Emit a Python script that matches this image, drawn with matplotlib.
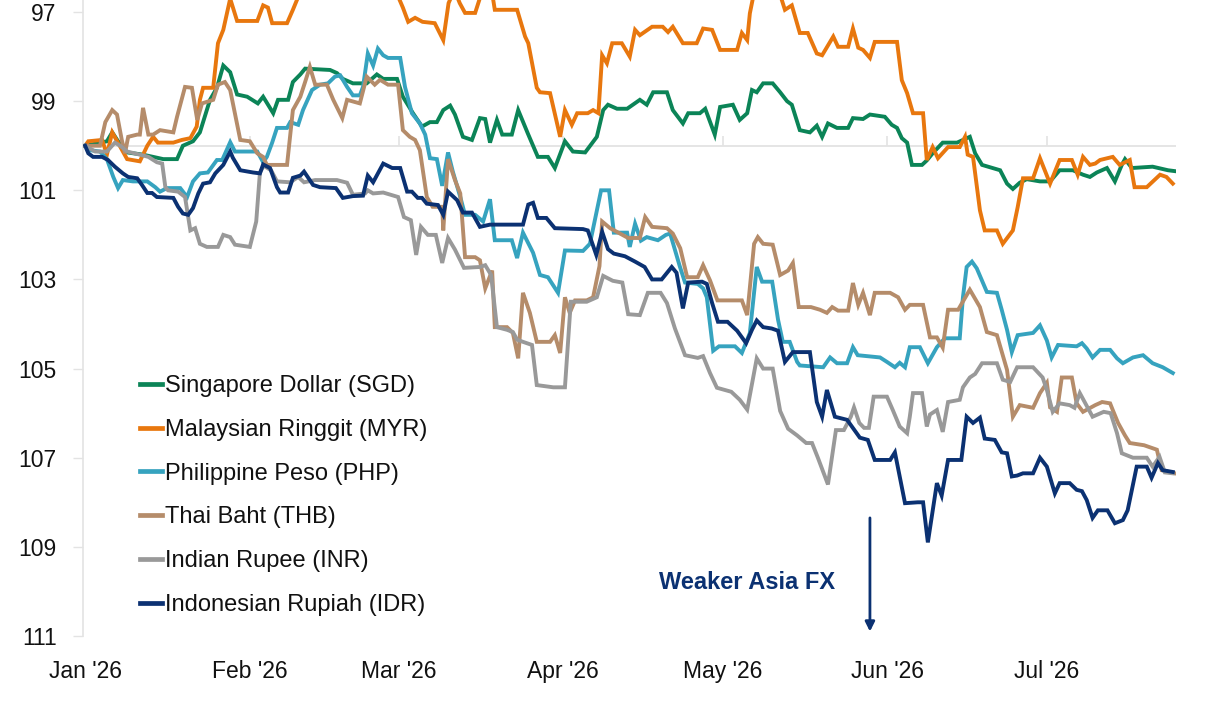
import numpy as np
import matplotlib
matplotlib.use("Agg")
import matplotlib.pyplot as plt
from matplotlib.lines import Line2D

plt.rcParams['font.family'] = ['Liberation Sans', 'DejaVu Sans']

# ---------------- data (days since 1 Jan 2026, index level, inverted scale) ----------------
tick_days = [0, 31, 59, 90, 120, 151, 181]
tick_labels = ["Jan '26", "Feb '26", "Mar '26", "Apr '26", "May '26", "Jun '26", "Jul '26"]
y_ticks = [97, 99, 101, 103, 105, 107, 109, 111]

sgd_days = [0, 4.1, 5.1, 6.2, 7.9, 10.9, 14.7, 17.3, 18.4, 20.3, 21.6, 23.5, 24.8, 26, 27.3, 28.6, 30.5,
            32.5, 33.5, 35.4, 36.3, 38.2, 39.1, 40.5, 41.4, 46.1, 47.4, 48.5, 50.4, 53, 54.9, 56.1, 58.7,
            59.8, 61.7, 63.4, 64.9, 66.2, 67.4, 68.7, 69.6, 71.1, 72.8, 74.3, 75.3, 76.2, 77.5, 78.5, 80.3,
            81.5, 83.3, 85.2, 87.1, 88.4, 90.3, 91.8, 94.1, 96.3, 97.5, 98.4, 100.1, 102, 104.4, 105.7,
            106.9, 109.5, 110.6, 112.5, 113.5, 115.7, 116.7, 118.5, 119.5, 121.9, 123.2, 124.6, 125.5,
            126.4, 127.6, 129.4, 130.8, 132.1, 133, 134.5, 136.4, 137.7, 138.7, 139.8, 141.5, 143.6,
            144.5, 146.4, 147.7, 150.5, 151.8, 152.8, 153.7, 154.7, 155.6, 157.5, 158.4, 159.5, 161.4,
            164.1, 165.2, 166.5, 167.5, 168.8, 170.8, 172.2, 173.5, 174.6, 175.9, 177.2, 179.7, 181.6,
            183.4, 185.9, 187.8, 189.1, 190.4, 192.3, 193.8, 195.1, 195.7, 197, 200.9, 203.8, 205.1]
sgd_vals = [100.0, 99.9, 99.7, 99.9, 100.15, 100.2, 100.3, 100.3, 100.0, 99.9, 99.7, 98.97, 98.7, 98.2,
            98.35, 98.85, 98.9, 99.05, 98.9, 99.27, 98.97, 98.97, 98.57, 98.4, 98.27, 98.3, 98.37, 98.5,
            98.6, 98.6, 98.4, 98.5, 98.5, 98.9, 99.27, 99.57, 99.47, 99.47, 99.2, 99.1, 99.3, 99.8, 99.87,
            99.38, 99.4, 99.93, 99.42, 99.75, 99.75, 99.2, 99.72, 100.25, 100.25, 100.5, 99.9, 100.13,
            100.15, 99.8, 99.2, 99.08, 99.17, 99.17, 98.97, 99.08, 98.8, 98.8, 99.2, 99.5, 99.27, 99.27,
            99.17, 99.75, 99.13, 99.08, 99.42, 99.27, 98.75, 98.8, 98.6, 98.6, 98.8, 99.0, 99.08, 99.65,
            99.7, 99.55, 99.8, 99.5, 99.6, 99.6, 99.38, 99.4, 99.3, 99.35, 99.53, 99.6, 99.83, 99.93,
            100.43, 100.43, 100.33, 100.17, 99.93, 99.93, 99.87, 99.8, 100.17, 100.43, 100.5, 100.55,
            100.85, 100.97, 100.83, 100.75, 100.8, 100.8, 100.55, 100.55, 100.65, 100.7, 100.6, 100.5,
            100.8, 100.43, 100.3, 100.5, 100.47, 100.55, 100.57]

myr_days = [0, 0.6, 3.2, 4.1, 5.1, 7.9, 10.3, 11.7, 12.8, 13.7, 16.6, 18.2, 19.8, 21, 21.6, 22.2, 24.1,
            25, 26, 27.3, 28.6, 32.4, 33.5, 34.4, 35.2, 38, 39.1, 41, 58, 59.8, 60.8, 62.1, 63.5, 65.8,
            67.4, 68.4, 69.5, 70.5, 71.5, 73.4, 74.8, 76.5, 77.1, 81.3, 82.8, 83.4, 85.0, 85.6, 87.5,
            89.4, 90.3, 91.6, 92.6, 94.6, 95.6, 96.6, 97.3, 98.2, 99.2, 101, 102.5, 103.5, 104.4, 106.7,
            108.7, 109.7, 110.6, 112.5, 115.1, 116.3, 118, 119.5, 122.7, 123.6, 124.6, 125.1, 126,
            130.5, 131.7, 133, 134.5, 136, 137.7, 138.7, 140.8, 141.7, 143.6, 144.5, 145.5, 146.4,
            147.7, 148.6, 152.8, 153.7, 154.7, 155.8, 157.7, 158.4, 159.5, 160.5, 162.4, 164.6, 165.6,
            166.1, 167.1, 168.4, 169.3, 171.6, 172.7, 174.6, 175.5, 176.5, 178.4, 179.7, 181.6, 183.4,
            185.7, 186.8, 187.8, 189.1, 190.1, 191, 193.4, 194.7, 196.6, 197.5, 199.8, 202.3, 203.5,
            204.7]
myr_vals = [100.0, 99.9, 99.87, 100.2, 99.7, 100.3, 100.35, 100.0, 99.8, 99.93, 99.93, 99.87, 99.83,
            99.57, 98.97, 98.7, 98.7, 97.7, 97.4, 96.7, 97.2, 97.2, 96.85, 96.9, 97.25, 97.25, 96.95,
            96.4, 96.4, 96.9, 97.22, 97.13, 97.22, 97.25, 97.63, 96.8, 96.5, 96.8, 97.02, 97.02, 96.5,
            96.5, 96.95, 96.95, 97.55, 97.7, 98.7, 98.8, 98.82, 99.8, 99.2, 99.53, 99.27, 99.27, 99.2,
            99.27, 97.97, 98.15, 97.7, 97.7, 98.0, 97.4, 97.52, 97.33, 97.33, 97.45, 97.33, 97.7, 97.7,
            97.37, 97.4, 97.85, 97.85, 97.47, 97.63, 97.03, 96.5, 96.5, 96.95, 96.85, 97.47, 97.47,
            97.93, 97.97, 97.55, 97.78, 97.78, 97.37, 97.8, 97.85, 98.03, 97.67, 97.67, 98.53, 98.82,
            99.27, 99.27, 100.32, 100.03, 100.28, 100.03, 100.03, 99.8, 100.2, 100.25, 101.45, 101.9,
            101.9, 102.2, 101.9, 101.38, 100.73, 100.73, 100.28, 100.85, 100.32, 100.32, 100.65,
            100.25, 100.43, 100.4, 100.32, 100.25, 100.43, 100.32, 100.93, 100.93, 100.65, 100.7,
            100.85]

php_days = [0, 0.9, 2.8, 4.1, 5.3, 6.2, 7.1, 9, 11.7, 13.2, 14.1, 15.4, 17.9, 19.2, 20.3, 21.6, 23.1,
            24.8, 25.8, 27.3, 28.2, 32.4, 33.5, 34.2, 35.2, 36.1, 38, 38.6, 40.1, 41, 42.7, 44.2, 45.7,
            47, 48, 49.3, 50.4, 51.7, 52.3, 53.2, 54.2, 55.1, 56.1, 57, 59.3, 60.2, 61.5, 63, 64, 64.9,
            66.2, 67.2, 68.3, 69.2, 70.6, 71.5, 73.4, 74.9, 76.2, 77.1, 80.3, 81.3, 82.4, 84.3, 85.6,
            87.1, 89, 90.3, 93.7, 95, 97.1, 98.6, 99.5, 102, 102.5, 103.5, 104.6, 105.7, 107.8, 109.3,
            110.1, 111.9, 112.9, 115.3, 116.3, 117, 118.2, 119.3, 122.3, 123.6, 125.1, 126.4, 127.4,
            129.3, 130.4, 131.3, 132.6, 134, 134.5, 138.9, 140.2, 141.5, 143.4, 144.5, 145.4, 149.6,
            150.9, 152.4, 153.3, 154.3, 155.2, 157.1, 158.6, 160.3, 161.8, 164.6, 165.2, 165.9, 166.9,
            167.8, 169.7, 171.6, 172.5, 173.5, 174.4, 175.5, 178.4, 179.7, 181, 181.9, 183.1, 186.6,
            187.6, 188.5, 189.6, 191, 192.9, 194.2, 195.3, 197.2, 199.1, 200.9, 202.8, 204.7]
php_vals = [100.0, 100.1, 100.13, 100.3, 100.7, 100.95, 100.77, 100.8, 100.8, 100.93, 101.03, 100.95,
            100.95, 101.15, 100.8, 100.62, 100.6, 100.32, 100.32, 99.92, 100.13, 100.13, 100.37, 100.25,
            99.93, 99.6, 99.6, 99.47, 99.53, 99.2, 98.75, 98.63, 98.6, 98.45, 98.42, 98.68, 98.87,
            98.87, 98.68, 97.93, 98.2, 97.82, 97.97, 98.03, 98.03, 98.68, 99.27, 99.5, 99.75, 100.28,
            100.3, 100.9, 100.15, 100.58, 101.15, 101.55, 101.55, 101.7, 101.2, 102.12, 102.12, 102.52,
            101.95, 102.4, 102.9, 102.95, 103.3, 102.35, 102.36, 102.2, 101.0, 101.0, 101.95, 101.95,
            102.27, 101.75, 102.13, 102.05, 102.12, 102.0, 101.97, 102.7, 103.07, 103.1, 103.2, 103.4,
            104.6, 104.5, 104.5, 104.65, 104.2, 102.72, 103.05, 103.05, 103.9, 104.4, 104.4, 104.85,
            104.93, 104.97, 104.75, 104.88, 104.88, 104.52, 104.7, 104.75, 104.85, 104.97, 104.87,
            104.97, 104.52, 104.52, 104.88, 104.52, 104.32, 104.32, 103.4, 102.72, 102.6, 102.75,
            103.28, 103.3, 103.68, 104.13, 104.63, 104.25, 104.2, 104.03, 104.37, 104.75, 104.47,
            104.5, 104.43, 104.55, 104.75, 104.58, 104.58, 104.77, 104.88, 104.75, 104.7, 104.88,
            104.97, 105.1]

thb_days = [0, 2.8, 3.8, 5.1, 6, 6.9, 7.5, 8.1, 9.8, 10.3, 10.9, 11.9, 12.8, 14.1, 16.6, 17.3, 18.8,
            20.1, 21.1, 22, 24.1, 25, 26.3, 27.3, 29.2, 31.0, 32.4, 33.5, 34.2, 38, 39.1, 40.5, 41.4,
            42.3, 43.3, 45.5, 46.7, 48.4, 49.3, 51.7, 53, 54.5, 55.5, 57, 58.9, 59.8, 61.1, 62.1, 63,
            64.3, 65.4, 67.2, 67.4, 68.3, 69.6, 70.6, 71.5, 73.4, 74.3, 75.3, 76.6, 77.1, 79.4, 80.5,
            81.5, 82.4, 83.7, 85, 87.5, 88.4, 89.4, 90.3, 91.2, 92.2, 94.4, 95.6, 96.8, 97.3, 98.8,
            102.2, 104.4, 105.4, 106.7, 109.5, 110.6, 112, 113.3, 115.3, 116.3, 117.6, 119, 123.6,
            124.6, 125.9, 126.6, 127.6, 129.4, 130.8, 132.3, 133.2, 134.3, 136.6, 138.3, 139.6, 140.6,
            141.7, 143.6, 144.5, 145.5, 146.4, 147.7, 148.6, 151.5, 153, 154.3, 155.2, 157.7, 159,
            160.3, 161.4, 162.4, 164.3, 166.5, 168.4, 169.7, 171.6, 173.5, 174.6, 175.9, 178.4, 179.7,
            181, 181.6, 182.9, 183.8, 185.7, 186.6, 187.8, 190.1, 191.4, 192.9, 193.4, 194.4, 195.7,
            196.6, 199.3, 201.7, 202.6, 205.1]
thb_vals = [100.0, 100.0, 99.47, 99.2, 99.3, 99.87, 100.17, 99.8, 99.75, 99.75, 99.15, 99.75, 99.75,
            99.65, 99.7, 99.35, 98.68, 98.7, 99.42, 99.05, 98.97, 98.63, 98.57, 98.75, 99.87, 99.9,
            100.17, 100.25, 100.43, 100.43, 99.2, 98.9, 98.57, 98.23, 98.63, 98.63, 98.97, 99.38,
            98.97, 99.05, 98.45, 98.63, 98.52, 98.63, 98.63, 99.65, 99.8, 99.87, 100.1, 101.15,
            101.37, 101.37, 101.9, 100.3, 100.77, 101.07, 102.5, 102.5, 102.57, 103.2, 102.8, 104.07,
            104.07, 104.2, 104.77, 103.3, 103.75, 104.4, 104.4, 104.25, 104.65, 103.4, 103.75, 103.47,
            103.47, 103.4, 102.7, 101.7, 101.85, 102.07, 102.07, 101.6, 101.82, 101.85, 101.97,
            102.3, 102.95, 102.95, 102.68, 103.02, 103.47, 103.47, 103.8, 102.2, 102.05, 102.2,
            102.22, 102.9, 102.8, 102.63, 103.62, 103.62, 103.68, 103.75, 103.62, 103.7, 103.7,
            103.08, 103.57, 103.3, 103.8, 103.3, 103.3, 103.4, 103.68, 103.57, 103.57, 104.3, 104.3,
            104.53, 103.68, 103.68, 103.23, 103.62, 104.18, 104.25, 105.03, 106.08, 105.82, 105.88,
            105.55, 105.32, 105.87, 105.97, 105.2, 105.2, 105.78, 105.97, 105.82, 105.75, 105.78,
            105.93, 106.22, 106.5, 106.67, 106.72, 106.82, 107.28, 107.35]

inr_days = [0, 1.9, 4.1, 5.6, 6.6, 7.9, 10.3, 11.9, 13.5, 14.5, 15.1, 15.6, 17.5, 18.8, 19.8, 20.7,
            21.6, 22.9, 25, 26, 27.3, 28.2, 31, 32.2, 32.9, 33.6, 35, 36.1, 38.6, 40.1, 41.2, 43.3,
            47.4, 49.3, 50.4, 52.7, 53.2, 54.2, 56.1, 58.9, 60, 61.3, 62.3, 63.2, 64.5, 66, 67.2, 68.3,
            69.6, 71.3, 74.3, 75.3, 76.4, 77.5, 79.4, 80.5, 81.3, 82.4, 84.1, 85, 88.1, 90.3, 91.4,
            94.4, 96.3, 97.5, 99.3, 101.1, 102.2, 104.4, 105.9, 108.3, 109.5, 111, 112.9, 115.3, 116.3,
            117.6, 118.9, 121.6, 123.2, 124.6, 126.4, 127.6, 129.4, 130.8, 132.3, 134, 135.7, 136.8,
            137.9, 139.8, 141.3, 142.8, 144.1, 144.7, 145.7, 146.6, 147.5, 148.4, 150.9, 152, 153.3,
            154.7, 155.2, 155.8, 157.5, 158.4, 159, 160.3, 161.4, 162.4, 164.6, 165.2, 166.5, 167.5,
            168.8, 171.6, 172.7, 174.1, 175.4, 178.4, 180.2, 181, 182.1, 183.4, 185.3, 186.2, 187.2,
            189.6, 191.7, 193, 194.2, 195.1, 197.2, 199.8, 200.9, 202.2, 203.2, 204.7]
inr_vals = [100.0, 100.13, 100.13, 99.93, 100.0, 100.13, 100.2, 100.25, 100.37, 100.4, 100.93, 101.0,
            101.03, 101.15, 101.9, 101.85, 102.2, 102.27, 102.27, 102.0, 102.05, 102.22, 102.27,
            101.7, 100.6, 100.45, 100.55, 100.8, 100.82, 100.7, 100.82, 100.77, 100.77, 100.83,
            101.1, 101.07, 101.0, 101.07, 101.05, 101.15, 101.6, 101.67, 102.45, 101.82, 102.0, 102.0,
            102.63, 102.07, 102.33, 102.74, 102.72, 102.68, 102.9, 104.07, 104.13, 104.18, 104.35,
            104.4, 104.47, 105.37, 105.42, 105.42, 103.5, 103.5, 103.4, 102.92, 103.03, 103.07,
            103.78, 103.8, 103.3, 103.3, 103.53, 104.1, 104.7, 104.76, 104.72, 105.1, 105.43, 105.52,
            105.7, 105.92, 104.77, 105.0, 105.0, 105.95, 106.35, 106.5, 106.67, 106.67, 107.0, 107.6,
            106.38, 106.38, 106.08, 105.87, 106.22, 106.33, 106.33, 105.63, 105.63, 105.93, 106.3,
            106.45, 106.08, 105.55, 105.55, 106.3, 106.03, 105.93, 106.42, 105.75, 105.7, 105.42,
            105.2, 105.12, 104.88, 104.88, 105.25, 105.3, 104.97, 104.97, 105.2, 105.48, 105.97,
            105.78, 105.82, 105.88, 105.55, 106.08, 105.97, 106.0, 106.45, 106.9, 107.0, 107.0,
            107.2, 106.98, 107.33, 107.35]

idr_days = [0, 0.6, 1.5, 3.2, 4.3, 5.6, 7.1, 8.1, 9.8, 10.7, 11.7, 12.6, 13.5, 16.6, 17.5, 18.4, 19.4,
            20.3, 21.3, 22.2, 23.5, 24.5, 26, 27.3, 27.8, 29.2, 31.6, 32.9, 33.5, 34.8, 36.1, 36.7,
            38.2, 39.1, 40.5, 41.2, 42.9, 44.2, 47.2, 48.5, 50.4, 52.3, 53.2, 54.2, 56.1, 57.8, 59.3,
            60.6, 61.5, 62.6, 63.4, 64.3, 66.4, 67.4, 68.3, 70, 71.1, 72.8, 74.3, 76.2, 82.4, 83.4,
            84.3, 85.2, 86.8, 88.4, 93.7, 94.6, 96.2, 97.3, 98.4, 99.5, 101.6, 103.5, 105.3, 106.7,
            108.5, 110.4, 111.3, 112.5, 113.5, 116.1, 117, 118, 119.1, 120.9, 122.7, 124.4, 125.5,
            126.4, 127.6, 129.2, 130.4, 131.7, 133.2, 136.4, 137.7, 138.7, 139.6, 141.1, 143.4, 144.3,
            145.8, 147.3, 148.6, 151.5, 152.4, 154.3, 156.7, 157.7, 158.6, 160.3, 161.2, 162.4, 164.9,
            165.9, 167.1, 168.4, 169.3, 171.2, 172.5, 173.5, 174.4, 175.4, 176.5, 178.4, 179.7, 181,
            182.5, 183.4, 185.3, 186.6, 187.6, 188.5, 189.6, 190.6, 192.4, 193.8, 195.3, 196.2, 197.9,
            199.8, 200.7, 201.9, 202.8, 204.7]
idr_vals = [100.0, 100.17, 100.25, 100.25, 100.32, 100.47, 100.62, 100.7, 100.73, 100.88, 101.06,
            101.06, 101.15, 101.17, 101.37, 101.52, 101.55, 101.4, 101.07, 100.85, 100.82, 100.62,
            100.43, 100.13, 100.27, 100.55, 100.6, 100.62, 100.42, 100.5, 100.93, 101.05, 101.05,
            100.72, 100.67, 100.58, 100.88, 100.93, 100.95, 101.17, 101.13, 101.12, 100.67, 100.82,
            100.4, 100.5, 100.5, 101.03, 101.03, 101.17, 101.17, 101.3, 101.33, 101.55, 101.03,
            101.22, 101.5, 101.5, 101.82, 101.77, 101.77, 101.32, 101.28, 101.62, 101.62, 101.85,
            101.87, 101.9, 102.45, 101.93, 102.32, 102.42, 102.48, 102.6, 102.72, 103.0, 103.0,
            102.72, 102.85, 103.65, 103.07, 103.05, 103.1, 103.53, 103.95, 103.95, 104.15, 104.43,
            104.13, 103.92, 104.07, 104.1, 104.15, 104.85, 104.63, 104.63, 105.75, 106.08, 105.48,
            106.08, 106.15, 106.3, 106.55, 106.6, 107.05, 107.05, 106.88, 108.02, 108.0, 108.0, 108.9,
            107.57, 107.85, 107.05, 107.05, 106.08, 106.22, 106.1, 106.57, 106.6, 106.88, 106.9,
            107.42, 107.4, 107.35, 107.35, 107.0, 107.2, 107.8, 107.57, 107.57, 107.72, 107.75,
            107.95, 108.35, 108.18, 108.18, 108.47, 108.4, 108.18, 107.2, 107.2, 107.45, 107.12,
            107.28, 107.32]

series_names = ["Singapore Dollar (SGD)", "Malaysian Ringgit (MYR)", "Philippine Peso (PHP)",
                "Thai Baht (THB)", "Indian Rupee (INR)", "Indonesian Rupiah (IDR)"]
series_colors = ["#0b8457", "#e8770e", "#36a3bf", "#b58c6a", "#999999", "#0b3172"]

annot_text = "Weaker Asia FX"
annot_text_pos = (124.6, 109.8)
annot_arrow_start = (147.7, 108.35)
annot_arrow_end = (147.7, 110.9)

# ---------------- figure ----------------
fig = plt.figure(figsize=(12.06, 7.02), dpi=100)
ax = fig.add_axes([83 / 1206, 1 - 636 / 702, 1093 / 1206, 636 / 702])

series = [(sgd_days, sgd_vals), (myr_days, myr_vals), (php_days, php_vals),
          (thb_days, thb_vals), (inr_days, inr_vals), (idr_days, idr_vals)]
handles = []
for (d, v), name, col in zip(series, series_names, series_colors):
    ax.plot(d, v, color=col, lw=2.8, solid_joinstyle='miter', zorder=3)
    handles.append(Line2D([], [], color=col, lw=3.4, label=name))

ax.set_xlim(-0.4, 205.3)
ax.set_ylim(111, 96.73)

grid_col = "#e3e3e3"
ax.axhline(100, color=grid_col, lw=1.3, zorder=1)
ax.plot(tick_days[1:], np.full(len(tick_days) - 1, 100.0), ls='none', marker=2, ms=7,
        mew=1.2, color=grid_col, zorder=1)

for s in ['top', 'right', 'bottom']:
    ax.spines[s].set_visible(False)
ax.spines['left'].set_color(grid_col)
ax.spines['left'].set_linewidth(1.2)

fs_tick = 16.5
fs_leg = 17
ax.set_yticks(y_ticks)
ax.set_yticklabels([str(t) for t in y_ticks], fontsize=fs_tick, color='#111111')
ax.tick_params(axis='y', length=7, width=1.0, color=grid_col, pad=12)
ax.set_xticks(tick_days)
ax.set_xticklabels(tick_labels, fontsize=fs_tick, color='#111111')
ax.tick_params(axis='x', length=0, pad=17)

leg = ax.legend(handles=handles, loc='upper left', bbox_to_anchor=(0.052, 0.41),
                frameon=False, fontsize=fs_leg, handlelength=0.95, handletextpad=0.1,
                labelspacing=0.92, borderpad=0, borderaxespad=0)
for t in leg.get_texts():
    t.set_color('#111111')

ax.annotate("", xy=annot_arrow_end, xytext=annot_arrow_start,
            arrowprops=dict(arrowstyle='-|>', color='#0b3172', lw=2.0, mutation_scale=14,
                            shrinkA=0, shrinkB=0))
ax.text(annot_text_pos[0], annot_text_pos[1], annot_text, fontsize=17, fontweight='bold',
        color='#0b3172', ha='center', va='center')

fig.savefig("out.png", dpi=100)
